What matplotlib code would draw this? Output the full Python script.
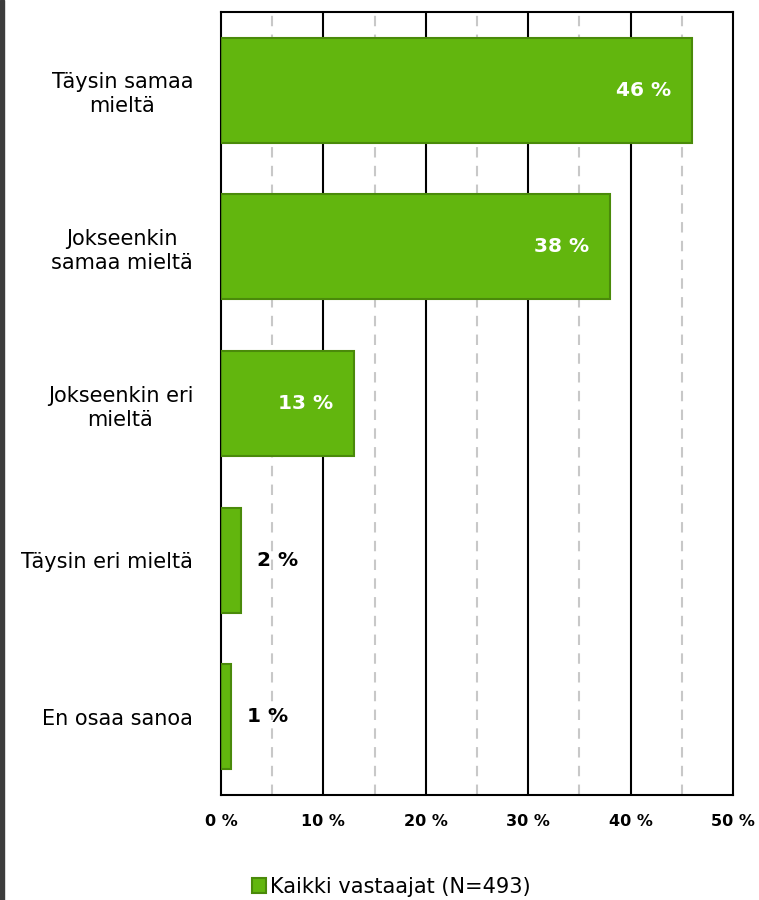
import matplotlib
matplotlib.use("Agg")
import matplotlib.pyplot as plt
from matplotlib.patches import Rectangle

# --- data ---
categories = ["Täysin samaa\nmieltä", "Jokseenkin\nsamaa mieltä", "Jokseenkin eri\nmieltä",
              "Täysin eri mieltä", "En osaa sanoa"]
values = [46, 38, 13, 2, 1]
series_name = "Kaikki vastaajat (N=493)"
xticks = [0, 10, 20, 30, 40, 50]
xtick_labels = [f"{t} %" for t in xticks]

BAR = "#62B60E"
EDGE = "#4A8A0A"

fig = plt.figure(figsize=(7.59, 9.0), dpi=100)
W, H = 759, 900
ax = fig.add_axes([221 / W, 1 - 795 / H, (733 - 221) / W, (795 - 12) / H])

ypos = list(range(len(categories)))
ax.barh(ypos, values, height=0.67, color=BAR, edgecolor=EDGE, linewidth=1.5,
        label=series_name, zorder=3)

ax.set_xlim(0, 50)
ax.set_ylim(len(categories) - 0.5, -0.5)

# gridlines: solid at 10s, dashed at 5s
for x in range(5, 50, 10):
    ax.axvline(x, color="#C8C8C8", lw=1.5, ls=(0, (5, 4)), zorder=1)
for x in range(10, 50, 10):
    ax.axvline(x, color="black", lw=1.5, zorder=1)

for s in ax.spines.values():
    s.set_linewidth(1.5)
    s.set_color("black")

ax.set_xticks(xticks)
ax.set_xticklabels(xtick_labels, fontsize=11.5, fontweight="bold")
ax.set_yticks(ypos)
ax.set_yticklabels(categories, fontsize=15, multialignment="center", linespacing=1.25)
ax.tick_params(axis="both", length=0)
ax.tick_params(axis="x", pad=14)
ax.tick_params(axis="y", pad=20)

for y, v in zip(ypos, values):
    if v >= 10:
        ax.annotate(f"{v} %", (v, y), xytext=(-15, 0), textcoords="offset points",
                    ha="right", va="center", color="white", fontsize=14.5,
                    fontweight="bold", zorder=4)
    else:
        ax.annotate(f"{v} %", (v, y), xytext=(11, 0), textcoords="offset points",
                    ha="left", va="center", color="black", fontsize=14.5,
                    fontweight="bold", zorder=4)

fig.legend(loc="center", bbox_to_anchor=(391 / W, 1 - 887 / H), frameon=False,
           fontsize=15, handlelength=0.7, handleheight=0.7, handletextpad=0.15)

# dark strip at the left edge
fig.patches.append(Rectangle((0, 0), 4 / W, 1, transform=fig.transFigure,
                             color="#3C3C3C", zorder=0))

fig.savefig("out.png", dpi=100)
